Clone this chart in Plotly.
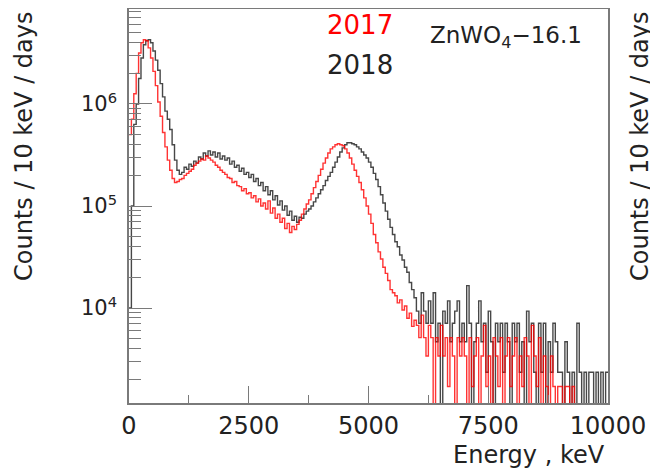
import numpy as np
import plotly.graph_objects as go

# ---------------- data ----------------
BIN_KEV = 50  # histogram bin width, keV

# log10(Counts / 10 keV / days) per 50 keV bin, None = empty bin
red_2017_log10 = [
    # 0 - 1000 keV
    5.70, 5.85, 6.10, 6.30, 6.50, 6.60, 6.63, 6.62, 6.55, 6.45, 6.32, 6.18, 6.02, 5.88, 5.72, 5.58, 5.45, 5.35, 5.27, 5.23,
    # 1000 - 2000
    5.24, 5.26, 5.27, 5.30, 5.32, 5.34, 5.36, 5.40, 5.42, 5.44, 5.46, 5.45, 5.49, 5.47, 5.45, 5.43, 5.40, 5.38, 5.35, 5.33,
    # 2000 - 3000
    5.31, 5.28, 5.27, 5.23, 5.24, 5.20, 5.19, 5.15, 5.17, 5.12, 5.13, 5.08, 5.10, 5.04, 5.07, 5.00, 5.03, 4.97, 5.05, 4.93,
    # 3000 - 4000
    4.98, 4.88, 4.92, 4.84, 4.88, 4.78, 4.83, 4.74, 4.80, 4.77, 4.82, 4.86, 4.92, 4.97, 5.02, 5.06, 5.12, 5.18, 5.24, 5.30,
    # 4000 - 5000
    5.36, 5.42, 5.47, 5.52, 5.56, 5.58, 5.60, 5.61, 5.60, 5.59, 5.56, 5.52, 5.47, 5.41, 5.35, 5.29, 5.23, 5.16, 5.08, 5.00,
    # 5000 - 6000
    4.92, 4.83, 4.72, 4.64, 4.55, 4.48, 4.40, 4.34, 4.27, 4.18, 4.15, 4.12, 4.05, 4.08, 3.98, 4.02, 3.90, 3.95, 3.82, 3.88,
    # 6000 - 7000
    3.83, 3.71, 3.93, 3.71, 3.53, 3.83, 3.71, None, 3.71, 3.53, 3.83, 3.53, 3.71, 3.23, 3.71, 3.53, None, 3.71, 3.53, 3.71,
    # 7000 - 8000
    3.53, None, 3.71, 3.23, 3.53, 3.71, None, 3.53, 3.83, 3.23, 3.53, None, 3.71, 3.53, 3.23, 3.71, None, 3.53, 3.71, 3.23,
    # 8000 - 9000
    3.53, 3.71, None, 3.53, 3.23, 3.71, 3.53, None, 3.83, 3.53, 3.23, 3.71, None, 3.53, 3.23, None, 3.53, 3.23, None, 3.23,
    # 9000 - 10000
    3.23, None, 3.23, 3.23, None, 3.23, None, None, None, None, None, None, None, None, None, None, None, None, None, None,
]

black_2018_log10 = [
    # 0 - 1000 keV
    4.00, 5.00, 5.80, 6.00, 6.25, 6.45, 6.58, 6.62, 6.63, 6.60, 6.52, 6.43, 6.33, 6.20, 6.07, 5.93, 5.85, 5.75, 5.60, 5.45,
    # 1000 - 2000
    5.35, 5.31, 5.33, 5.38, 5.36, 5.41, 5.39, 5.44, 5.42, 5.48, 5.46, 5.52, 5.49, 5.54, 5.50, 5.53, 5.48, 5.52, 5.46, 5.49,
    # 2000 - 3000
    5.45, 5.47, 5.41, 5.44, 5.38, 5.40, 5.34, 5.37, 5.31, 5.33, 5.28, 5.31, 5.24, 5.27, 5.20, 5.23, 5.15, 5.19, 5.11, 5.15,
    # 3000 - 4000
    5.06, 5.10, 5.01, 5.05, 4.96, 5.00, 4.91, 4.95, 4.86, 4.90, 4.84, 4.89, 4.88, 4.92, 4.95, 4.97, 5.00, 5.04, 5.08, 5.12,
    # 4000 - 5000
    5.16, 5.20, 5.25, 5.29, 5.33, 5.38, 5.43, 5.48, 5.53, 5.57, 5.60, 5.62, 5.62, 5.61, 5.60, 5.58, 5.56, 5.53, 5.50, 5.47,
    # 5000 - 6000
    5.43, 5.38, 5.32, 5.26, 5.19, 5.11, 5.03, 4.95, 4.87, 4.79, 4.72, 4.65, 4.60, 4.52, 4.47, 4.40, 4.35, 4.25, 4.18, 4.10,
    # 6000 - 7000
    3.97, 3.85, 4.15, 3.97, 3.85, 4.07, 3.85, 4.15, 3.67, 3.85, None, 3.97, 3.85, 4.07, 3.67, 3.85, 3.97, 4.07, 3.67, 3.85,
    # 7000 - 8000
    3.67, 4.22, 3.85, None, 3.67, 3.85, 4.07, 3.67, 3.85, 3.37, 3.97, 3.67, None, 3.85, 3.67, 3.85, 3.37, 3.85, 3.67, None,
    # 8000 - 9000
    3.85, 3.67, 3.85, 3.37, 3.67, None, 3.97, 3.67, 3.85, 3.37, None, 3.85, 3.37, 3.85, None, 3.67, 3.37, 3.85, 3.67, 3.37,
    # 9000 - 10000
    3.37, None, 3.67, 3.37, None, 3.37, None, 3.85, 3.37, None, 3.37, None, 3.37, 3.37, None, 3.37, None, 3.37, None, 3.37,
]

x_tick_vals = [0, 2500, 5000, 7500, 10000]
x_tick_text = ["0", "2500", "5000", "7500", "10000"]
y_tick_vals = [1e4, 1e5, 1e6]
y_tick_text = ["10<sup>4</sup>", "10<sup>5</sup>", "10<sup>6</sup>"]

series_names = ["2018", "2017"]
series_colors = ["rgba(25,25,25,0.8)", "rgba(255,0,0,0.8)"]

# ---------------- layout constants (pixels) ----------------
# the page body has an 8px margin, so the figure is drawn 8px in from the corner
PAGE_OFF = 8
W, H = 658 - PAGE_OFF, 472 - PAGE_OFF
L, T = 129 - PAGE_OFF, 9 - PAGE_OFF
R, B = W - (608 - PAGE_OFF), H - (403 - PAGE_OFF)
PW, PH = W - L - R, H - T - B
FONT = "DejaVu Sans"


def px_x(p):
    # p: pixel x in the screenshot
    return (p - PAGE_OFF - L) / PW


def px_y(p):
    return 1 - (p - PAGE_OFF - T) / PH


def step_xy(logs):
    n = len(logs)
    edges = np.arange(n + 1) * BIN_KEV
    ys = [10 ** v if v is not None else 1e-3 for v in logs]
    ys = ys + [ys[-1]]
    return edges, ys


fig = go.Figure()
for name, logs, col in zip(series_names, [black_2018_log10, red_2017_log10], series_colors):
    xs, ys = step_xy(logs)
    fig.add_trace(go.Scatter(x=xs, y=ys, mode="lines", name=name,
                             line=dict(color=col, width=1.4, shape="hv"),
                             showlegend=False))

minor_y = [m * 10 ** d for d in range(3, 7) for m in range(2, 10)]
minor_x = [1250, 3750, 6250, 8750]

axis_col = "#7a7a7a"
fig.update_layout(
    width=W, height=H,
    margin=dict(l=L, r=R, t=T, b=B, autoexpand=False),
    paper_bgcolor="white", plot_bgcolor="white",
    font=dict(family=FONT, color="#222222"),
    xaxis=dict(range=[0, 10000], showgrid=False, zeroline=False, automargin=False,
               showline=True, mirror=True, linecolor=axis_col, linewidth=1.5,
               tickmode="array", tickvals=x_tick_vals, ticktext=x_tick_text,
               ticks="inside", ticklen=17, tickwidth=1.2, tickcolor=axis_col,
               tickfont=dict(size=24, family=FONT, color="#222222"),
               ticklabelstandoff=0,
               minor=dict(tickmode="array", tickvals=minor_x, ticks="inside",
                          ticklen=8, tickwidth=1.2, tickcolor=axis_col, showgrid=False)),
    yaxis=dict(type="log", range=[3.069, 6.931], showgrid=False, zeroline=False, automargin=False,
               showline=True, mirror=True, linecolor=axis_col, linewidth=1.5,
               tickmode="array", tickvals=y_tick_vals, ticktext=y_tick_text,
               ticks="inside", ticklen=23, tickwidth=1.2, tickcolor=axis_col,
               tickfont=dict(size=21, family=FONT, color="#222222"),
               ticklabelstandoff=6,
               minor=dict(tickmode="array", tickvals=minor_y, ticks="inside",
                          ticklen=12, tickwidth=1.2, tickcolor=axis_col, showgrid=False)),
)

ytitle = "Counts / 10 keV / days"
annots = [
    dict(text=ytitle, x=px_x(24), y=px_y(146), textangle=-90, font=dict(size=24)),
    dict(text=ytitle, x=px_x(640), y=px_y(146), textangle=-90, font=dict(size=24)),
    dict(text="Energy , keV", x=px_x(607), y=px_y(455), xanchor="right", font=dict(size=24)),
    dict(text="2017", x=px_x(325), y=px_y(25), xanchor="left", font=dict(size=26, color="red")),
    dict(text="2018", x=px_x(325), y=px_y(65), xanchor="left", font=dict(size=26)),
    dict(text="ZnWO<sub>4</sub>\u221216.1", x=px_x(428), y=px_y(37), xanchor="left", font=dict(size=23)),
]
for a in annots:
    a.setdefault("xanchor", "center")
    fig.add_annotation(xref="paper", yref="paper", showarrow=False,
                       yanchor="middle", **a)

fig.write_html("out.html")
